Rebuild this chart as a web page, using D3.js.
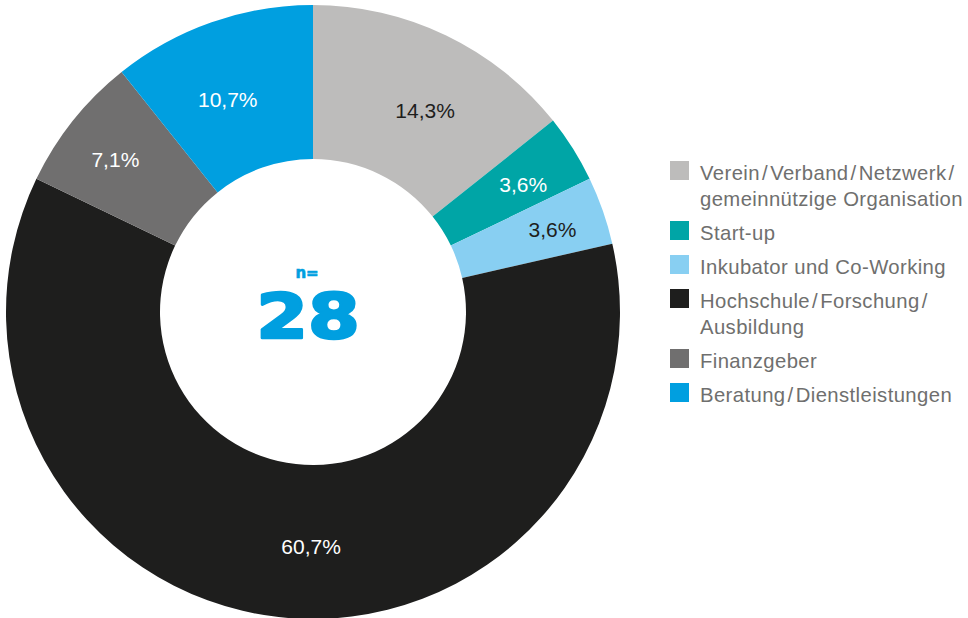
<!DOCTYPE html>
<html>
<head>
<meta charset="utf-8">
<script src="https://cdn.jsdelivr.net/npm/d3@7"></script>
<style>
    body { margin: 0; background: #fff; }
    svg { display: block; font-family: "Liberation Sans", Arial, sans-serif; }
    .label { font-size: 21px; text-anchor: middle; }
    .legend text { font-size: 20.3px; fill: #6f6f6e; letter-spacing: 0.4px; }
</style>
</head>
<body>
<script>
'use strict';

// data (n = 28 answers)
var categories = [
    ["Verein\u200a/\u200aVerband\u200a/\u200aNetzwerk\u200a/", "gemeinnützige Organisation"],
    ["Start-up"],
    ["Inkubator und Co-Working"],
    ["Hochschule\u200a/\u200aForschung\u200a/", "Ausbildung"],
    ["Finanzgeber"],
    ["Beratung\u200a/\u200aDienstleistungen"]
];
var counts = [4, 1, 1, 17, 2, 3];
var percentLabels = ["14,3%", "3,6%", "3,6%", "60,7%", "7,1%", "10,7%"];
var sampleSize = 28;

var colors = ["#bdbcbb", "#00a5a6", "#88cff2", "#1e1e1d", "#706f6f", "#009fe0"];
var labelColors = ["#1e1e1d", "#ffffff", "#1e1e1d", "#ffffff", "#ffffff", "#ffffff"];

var width = 968, height = 618;
var cx = 313, cy = 312;
var outerR = 307, innerR = 153;

// hand nudges for the in-ring labels (the original was placed by eye)
var labelNudge = [[8, 15], [7, 0], [13, -3], [25, -4], [-10, -3], [-6, 14]];

var svg = d3.select("body").append("svg")
    .attr("width", width)
    .attr("height", height);

var pie = d3.pie().sort(null).value(function(d) { return d; });
var arc = d3.arc().innerRadius(innerR).outerRadius(outerR);
var labelArc = d3.arc().innerRadius(240).outerRadius(240);

var arcs = pie(counts);

var g = svg.append("g").attr("transform", "translate(" + cx + "," + cy + ")");

g.selectAll("path.slice")
    .data(arcs)
    .enter()
    .append("path")
    .attr("class", "slice")
    .attr("d", arc)
    .attr("fill", function(d, i) { return colors[i]; });

g.selectAll("text.label")
    .data(arcs)
    .enter()
    .append("text")
    .attr("class", "label")
    .attr("x", function(d, i) { return labelArc.centroid(d)[0] + labelNudge[i][0]; })
    .attr("y", function(d, i) { return labelArc.centroid(d)[1] + labelNudge[i][1]; })
    .attr("dy", "0.36em")
    .attr("fill", function(d, i) { return labelColors[i]; })
    .text(function(d, i) { return percentLabels[i]; });

// n= 28 in the hole
g.append("text")
    .attr("x", -6)
    .attr("y", -34)
    .attr("text-anchor", "middle")
    .style("font-family", "'DejaVu Sans', sans-serif")
    .style("font-weight", "bold")
    .style("font-size", "15px")
    .attr("fill", "#009fe0")
    .attr("stroke", "#009fe0")
    .attr("stroke-width", 0.6)
    .text("n=");

g.append("text")
    .attr("text-anchor", "middle")
    .attr("transform", "translate(-5,26) scale(1.2,1)")
    .style("font-family", "'DejaVu Sans', sans-serif")
    .style("font-weight", "bold")
    .style("font-size", "62px")
    .attr("fill", "#009fe0")
    .attr("stroke", "#009fe0")
    .attr("stroke-width", 2.5)
    .attr("stroke-linejoin", "round")
    .text(sampleSize);

// legend
var legend = svg.append("g").attr("class", "legend");
var y = 180;
categories.forEach(function(lines, i) {
    var row = legend.append("g").attr("transform", "translate(670," + y + ")");
    row.append("rect")
        .attr("x", 0)
        .attr("y", -19)
        .attr("width", 19)
        .attr("height", 19)
        .attr("fill", colors[i]);
    row.selectAll("text")
        .data(lines)
        .enter()
        .append("text")
        .attr("x", 30)
        .attr("y", function(d, j) { return j * 26; })
        .text(function(d) { return d; });
    y += 34 + (lines.length - 1) * 26;
});
</script>
</body>
</html>
